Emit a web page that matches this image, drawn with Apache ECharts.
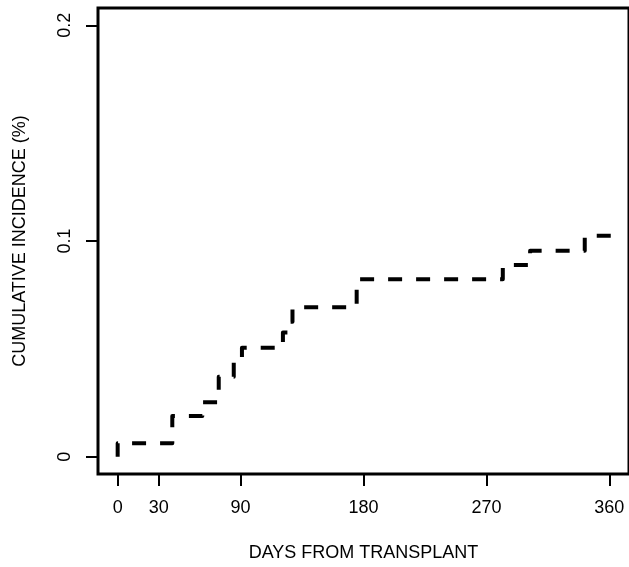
<!DOCTYPE html>
<html>
<head>
<meta charset="utf-8">
<script src="https://cdn.jsdelivr.net/npm/echarts@6/dist/echarts.min.js"></script>
<style>
  html, body { margin: 0; padding: 0; background: #fff; }
  #chart { width: 629px; height: 567px; }
</style>
</head>
<body>
<div id="chart"></div>
<script>
// step points of the cumulative incidence curve (day, value after the step)
const days = [0, 0, 40, 62, 74, 85, 91, 121, 125, 128, 175, 282, 302, 342, 365];
const incidence = [0, 0.0063, 0.0189, 0.0253, 0.0371, 0.0438, 0.0505, 0.0576, 0.0626, 0.0693, 0.0823, 0.0889, 0.0955, 0.1024, 0.1024];

const xTicks = [0, 30, 90, 180, 270, 360];
const yTicks = [0, 0.1, 0.2];

const FONT = 'Liberation Sans, Arial, sans-serif';

const chart = echarts.init(document.getElementById('chart'));

chart.setOption({
  animation: false,
  backgroundColor: '#fff',
  grid: {
    left: 98,
    top: 8,
    right: -2,
    bottom: 86,
    show: true,
    borderColor: '#000',
    borderWidth: 3,
  },
  xAxis: {
    type: 'value',
    min: -14.4,
    max: 374.4,
    splitLine: { show: false },
    axisLine: { show: false, onZero: false },
    axisTick: {
      show: true,
      length: 12,
      customValues: xTicks,
      lineStyle: { color: '#000', width: 2 },
    },
    axisLabel: {
      customValues: xTicks,
      margin: 25,
      color: '#000',
      fontSize: 18,
      fontFamily: FONT,
    },
    name: 'DAYS FROM TRANSPLANT',
    nameLocation: 'middle',
    nameGap: 70,
    nameTextStyle: { color: '#000', fontSize: 18, fontFamily: FONT },
  },
  yAxis: {
    type: 'value',
    min: -0.008,
    max: 0.208,
    splitLine: { show: false },
    axisLine: { show: false, onZero: false },
    axisTick: {
      show: true,
      length: 12,
      customValues: yTicks,
      lineStyle: { color: '#000', width: 2 },
    },
    axisLabel: {
      customValues: yTicks,
      rotate: 90,
      margin: 24,
      color: '#000',
      fontSize: 18,
      fontFamily: FONT,
      formatter: (v) => String(Math.round(v * 10) / 10),
    },
    name: 'CUMULATIVE INCIDENCE (%)',
    nameLocation: 'middle',
    nameGap: 69,
    nameRotate: 90,
    nameTextStyle: { color: '#000', fontSize: 18, fontFamily: FONT },
  },
  series: [
    {
      type: 'line',
      step: 'end',
      symbol: 'none',
      data: days.map((d, i) => [d, incidence[i]]),
      lineStyle: {
        color: '#000',
        width: 4,
        type: [14, 14],
        join: 'round',
      },
    },
  ],
});
</script>
</body>
</html>
